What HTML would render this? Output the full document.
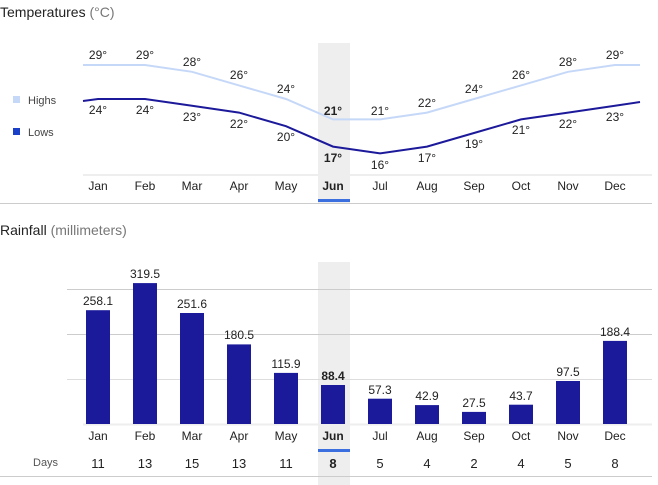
<!DOCTYPE html>
<html><head><meta charset="utf-8"><style>
body{margin:0;background:#fff;}
svg{display:block;font-family:"Liberation Sans",Arial,sans-serif;}
</style></head><body>
<svg width="658" height="485" viewBox="0 0 658 485">
<text x="0" y="17" font-size="14" fill="#222">Temperatures <tspan fill="#777">(°C)</tspan></text>
<rect x="318" y="43" width="32" height="160" fill="#eeeeee"/>
<line x1="83" y1="175" x2="652" y2="175" stroke="#eee" stroke-width="2"/>
<line x1="0" y1="203.5" x2="652" y2="203.5" stroke="#ccc"/>
<rect x="318" y="199" width="32" height="3" fill="#3b6fe0"/>
<rect x="13" y="96" width="7" height="7" fill="#c6d8f8"/>
<text x="28" y="104" font-size="11" fill="#444">Highs</text>
<rect x="13" y="128" width="7" height="7" fill="#1a3fc8"/>
<text x="28" y="136" font-size="11" fill="#444">Lows</text>
<polyline fill="none" stroke="#c6d8f8" stroke-width="2" points="83,65 98,65 145,65 192,71.8 239,85.4 286,99 333,119.4 380,119.4 427,112.6 474,99 521,85.4 568,71.8 615,65 640,65"/>
<polyline fill="none" stroke="#1c1a9a" stroke-width="2" points="83,101 98,99 145,99 192,105.8 239,112.6 286,126.2 333,146.6 380,153.4 427,146.6 474,133 521,119.4 568,112.6 615,105.8 640,102"/>
<g font-size="12" fill="#222" text-anchor="middle">
<text x="98" y="59">29°</text><text x="145" y="59">29°</text><text x="192" y="66">28°</text><text x="239" y="79">26°</text><text x="286" y="93">24°</text><text x="333" y="115" font-weight="bold">21°</text><text x="380" y="115">21°</text><text x="427" y="107">22°</text><text x="474" y="93">24°</text><text x="521" y="79">26°</text><text x="568" y="66">28°</text><text x="615" y="59">29°</text>
<text x="98" y="114">24°</text><text x="145" y="114">24°</text><text x="192" y="121">23°</text><text x="239" y="128">22°</text><text x="286" y="141">20°</text><text x="333" y="162" font-weight="bold">17°</text><text x="380" y="169">16°</text><text x="427" y="162">17°</text><text x="474" y="148">19°</text><text x="521" y="134">21°</text><text x="568" y="128">22°</text><text x="615" y="121">23°</text>
</g>
<g font-size="12" fill="#222" text-anchor="middle">
<text x="98" y="190">Jan</text><text x="145" y="190">Feb</text><text x="192" y="190">Mar</text><text x="239" y="190">Apr</text><text x="286" y="190">May</text><text x="333" y="190" font-weight="bold">Jun</text><text x="380" y="190">Jul</text><text x="427" y="190">Aug</text><text x="474" y="190">Sep</text><text x="521" y="190">Oct</text><text x="568" y="190">Nov</text><text x="615" y="190">Dec</text>
</g>

<text x="0" y="235" font-size="14" fill="#222">Rainfall <tspan fill="#777">(millimeters)</tspan></text>
<rect x="318" y="262" width="32" height="223" fill="#eeeeee"/>
<g stroke="#ccc"><line x1="67" y1="289.5" x2="652" y2="289.5"/><line x1="67" y1="334.5" x2="652" y2="334.5"/><line x1="67" y1="379.5" x2="652" y2="379.5" stroke="#ddd"/></g>
<line x1="83" y1="424.5" x2="652" y2="424.5" stroke="#eee" stroke-width="2"/>
<g fill="#1a1a9a">
<rect x="86" y="310.2" width="24" height="113.8"/><rect x="133" y="283.1" width="24" height="140.9"/><rect x="180" y="313" width="24" height="111"/><rect x="227" y="344.4" width="24" height="79.6"/><rect x="274" y="372.9" width="24" height="51.1"/><rect x="321" y="385" width="24" height="39"/><rect x="368" y="398.7" width="24" height="25.3"/><rect x="415" y="405.1" width="24" height="18.9"/><rect x="462" y="411.9" width="24" height="12.1"/><rect x="509" y="404.7" width="24" height="19.3"/><rect x="556" y="381" width="24" height="43"/><rect x="603" y="340.9" width="24" height="83.1"/>
</g>
<g font-size="12" fill="#222" text-anchor="middle">
<text x="98" y="305">258.1</text><text x="145" y="278">319.5</text><text x="192" y="308">251.6</text><text x="239" y="339">180.5</text><text x="286" y="368">115.9</text><text x="333" y="380" font-weight="bold">88.4</text><text x="380" y="394">57.3</text><text x="427" y="400">42.9</text><text x="474" y="407">27.5</text><text x="521" y="400">43.7</text><text x="568" y="376">97.5</text><text x="615" y="336">188.4</text>
</g>
<g font-size="12" fill="#222" text-anchor="middle">
<text x="98" y="440">Jan</text><text x="145" y="440">Feb</text><text x="192" y="440">Mar</text><text x="239" y="440">Apr</text><text x="286" y="440">May</text><text x="333" y="440" font-weight="bold">Jun</text><text x="380" y="440">Jul</text><text x="427" y="440">Aug</text><text x="474" y="440">Sep</text><text x="521" y="440">Oct</text><text x="568" y="440">Nov</text><text x="615" y="440">Dec</text>
</g>
<rect x="318" y="449" width="32" height="3" fill="#3b6fe0"/>
<text x="33" y="466" font-size="11" fill="#555">Days</text>
<g font-size="13" fill="#222" text-anchor="middle">
<text x="98" y="468">11</text><text x="145" y="468">13</text><text x="192" y="468">15</text><text x="239" y="468">13</text><text x="286" y="468">11</text><text x="333" y="468" font-weight="bold">8</text><text x="380" y="468">5</text><text x="427" y="468">4</text><text x="474" y="468">2</text><text x="521" y="468">4</text><text x="568" y="468">5</text><text x="615" y="468">8</text>
</g>
<line x1="0" y1="476.5" x2="652" y2="476.5" stroke="#ccc"/>
</svg>
</body></html>
